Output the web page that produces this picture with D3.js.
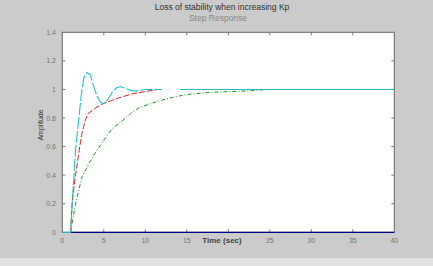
<!DOCTYPE html>
<html>
<head>
  <title>Loss of stability</title>
  <style>
    body { margin: 0; background: #e2e2e2; }
    text { font-family: "Liberation Sans", Arial, sans-serif; }
  </style>
</head>
<body>
  <svg id="chart"></svg>
  <script src="https://d3js.org/d3.v7.min.js"></script>
  <script>
    // values
    const xTicks = [0, 5, 10, 15, 20, 25, 30, 35, 40];
    const xTickLabels = [0, 5, 10, 15, 25, 30, 35, 40]; // "20" sits under the axis title
    const yTicks = [0, 0.2, 0.4, 0.6, 0.8, 1, 1.2, 1.4];

    const cyanT = [0, 1, 1.3, 1.6, 2, 2.3, 2.6, 3, 3.4, 3.8, 4.2, 4.6, 5, 5.5, 6, 6.5, 7, 7.5, 8, 8.5, 9, 10, 11, 12];
    const cyanY = [0, 0, 0.3, 0.58, 0.8, 0.97, 1.08, 1.12, 1.1, 1.02, 0.95, 0.91, 0.9, 0.93, 0.98, 1.01, 1.02, 1.01, 1.0, 0.99, 0.99, 1.0, 1.0, 1.0];

    const redT = [1, 1.2, 1.5, 1.8, 2.1, 2.4, 2.75, 3.1, 4, 4.9, 5.8, 6.75, 7.6, 8.45, 10, 11.5];
    const redY = [0, 0.22, 0.36, 0.48, 0.6, 0.7, 0.78, 0.83, 0.87, 0.9, 0.92, 0.94, 0.955, 0.97, 0.985, 1.0];

    const greenT = [1, 1.5, 2, 2.4, 3.2, 4, 5.2, 6, 7.2, 8.2, 9.2, 10.6, 12, 13.4, 14.6, 16, 17.8, 20, 22.6, 24.7];
    const greenY = [0, 0.17, 0.3, 0.39, 0.48, 0.56, 0.66, 0.725, 0.78, 0.83, 0.87, 0.9, 0.925, 0.946, 0.96, 0.97, 0.98, 0.985, 0.99, 1.0];

    const refT = [14.2, 40];
    const refY = [1, 1];

    const width = 433, height = 266;
    const svg = d3.select("#chart").attr("width", width).attr("height", height);

    svg.append("rect").attr("width", width).attr("height", 258).attr("fill", "#cbcbcb");

    const x = d3.scaleLinear().domain([0, 40]).range([62.3, 394.3]);
    const y = d3.scaleLinear().domain([0, 1.4]).range([232.3, 32.3]);

    // plot area
    svg.append("rect")
      .attr("x", x(0)).attr("y", y(1.4))
      .attr("width", x(40) - x(0)).attr("height", y(0) - y(1.4))
      .attr("fill", "#fff").attr("stroke", "#666").attr("stroke-width", 1);

    // inward ticks
    const tickG = svg.append("g").attr("stroke", "#777").attr("stroke-width", 1);
    xTicks.slice(1, -1).forEach(t => {
      tickG.append("line").attr("x1", x(t)).attr("x2", x(t)).attr("y1", y(0)).attr("y2", y(0) - 3);
      tickG.append("line").attr("x1", x(t)).attr("x2", x(t)).attr("y1", y(1.4)).attr("y2", y(1.4) + 3);
    });
    yTicks.slice(1, -1).forEach(t => {
      tickG.append("line").attr("x1", x(0)).attr("x2", x(0) + 3).attr("y1", y(t)).attr("y2", y(t));
      tickG.append("line").attr("x1", x(40)).attr("x2", x(40) - 3).attr("y1", y(t)).attr("y2", y(t));
    });

    // tick labels
    svg.append("g").selectAll("text").data(xTickLabels).join("text")
      .attr("x", d => x(d)).attr("y", 243)
      .attr("text-anchor", "middle").attr("font-size", 7).attr("fill", "#777")
      .text(d => d);
    svg.append("g").selectAll("text").data(yTicks).join("text")
      .attr("x", 56).attr("y", d => y(d) + 2.5)
      .attr("text-anchor", "end").attr("font-size", 7).attr("fill", "#777")
      .text(d => d);

    const line = d3.line().x(d => x(d[0])).y(d => y(d[1]));
    const pairs = (ts, vs) => ts.map((t, i) => [t, vs[i]]);

    // zero line along the bottom
    svg.append("path").datum(pairs([1, 40], [0, 0])).attr("d", line)
      .attr("fill", "none").attr("stroke", "#00008b").attr("stroke-width", 1.2);

    svg.append("path").datum(pairs(greenT, greenY)).attr("d", line)
      .attr("fill", "none").attr("stroke", "#1a9a1a").attr("stroke-width", 1)
      .attr("stroke-dasharray", "4,2,1,2");
    svg.append("path").datum(pairs(redT, redY)).attr("d", line)
      .attr("fill", "none").attr("stroke", "#e02020").attr("stroke-width", 1)
      .attr("stroke-dasharray", "6,2");
    svg.append("path").datum(pairs(cyanT, cyanY)).attr("d", line)
      .attr("fill", "none").attr("stroke", "#20c0c8").attr("stroke-width", 1.1)
      .attr("stroke-dasharray", "12,2");
    svg.append("path").datum(pairs(refT, refY)).attr("d", line)
      .attr("fill", "none").attr("stroke", "#20b8c0").attr("stroke-width", 1);

    // titles
    svg.append("text").attr("x", 222).attr("y", 10).attr("text-anchor", "middle")
      .attr("font-size", 8.5).attr("fill", "#333").text("Loss of stability when increasing Kp");
    svg.append("text").attr("x", 218).attr("y", 21).attr("text-anchor", "middle")
      .attr("font-size", 8.5).attr("fill", "#888").text("Step Response");

    svg.append("text").attr("x", 222).attr("y", 243).attr("text-anchor", "middle")
      .attr("font-size", 8).attr("font-weight", "bold").attr("fill", "#444").text("Time (sec)");

    svg.append("text").attr("transform", "translate(43,125) rotate(-90)")
      .attr("text-anchor", "middle").attr("font-size", 7).attr("fill", "#333").text("Amplitude");
  </script>
</body>
</html>
